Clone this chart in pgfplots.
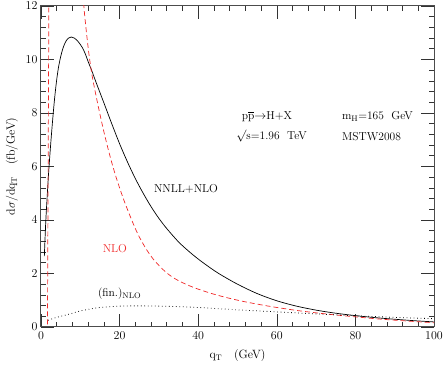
\documentclass[border=0pt]{standalone}
\usepackage{pgfplots}
\pgfplotsset{compat=1.18}
\definecolor{nlored}{RGB}{240,40,40}
\begin{document}
\begin{tikzpicture}[x=1pt,y=1pt]
\path[use as bounding box] (0,0) rectangle (448,366);
\begin{axis}[
  at={(41pt,39pt)}, anchor=south west,
  scale only axis, width=393pt, height=321pt,
  xmin=0, xmax=100, ymin=0, ymax=12,
  xtick={0,20,...,100}, ytick={0,2,...,12},
  minor x tick num=4, minor y tick num=4,
  tick align=inside, major tick length=13pt, minor tick length=5pt,
  tick style={black!80, line width=0.6pt},
  axis line style={black!70, line width=1pt},
  tick label style={font=\fontsize{13}{15}\selectfont},
  xticklabel style={yshift=-1pt},
  xlabel={q$_{\mathrm{T}}$~~~(GeV)},
  ylabel={d$\sigma$/dq$_{\mathrm{T}}$~~~(fb/GeV)},
  label style={font=\fontsize{12}{14}\selectfont},
  xlabel style={at={(axis description cs:0.5,-0.0903)}, anchor=center},
  ylabel style={at={(axis description cs:-0.0738,0.5)}, anchor=center},
  clip=true,
]
% NNLL+NLO
\addplot[black, line width=0.7pt, smooth] coordinates {
(0.85,2.65) (1.2,3.9) (1.6,4.95) (2.0,5.9) (2.5,6.9) (3.0,7.8) (3.5,8.6) (4.0,9.25)
(4.5,9.75) (5.0,10.1) (5.5,10.38) (6.0,10.58) (6.5,10.72) (7.0,10.8) (7.7,10.84)
(8.5,10.8) (9.5,10.66) (10.5,10.45) (11.3,10.2) (12,9.92) (13,9.55) (14,9.15)
(16,8.38) (18,7.6) (20,6.85) (22,6.17) (24,5.55) (26,5.0) (28,4.5) (30,4.06)
(32,3.68) (35,3.18) (38,2.78) (41,2.43) (45,2.02) (50,1.6) (55,1.25) (60,0.98)
(65,0.78) (70,0.63) (75,0.515) (80,0.425) (85,0.35) (90,0.29) (95,0.235) (100,0.19)
};
% NLO left branch
\addplot[nlored, line width=0.7pt, dash pattern=on 5pt off 3pt] coordinates {
(1.62,-0.5) (1.66,0.5) (1.7,2) (1.76,4) (1.82,6) (1.88,8) (1.94,10) (2.0,12) (2.03,13)
};
% NLO right branch
\addplot[nlored, line width=0.7pt, dash pattern=on 5pt off 3pt, smooth] coordinates {
(10.5,13) (10.9,12) (11.5,11.1) (12.2,10.2) (13,9.4) (14,8.65) (15,7.95) (16,7.3)
(17,6.7) (18,6.15) (19,5.65) (20,5.2) (21.4,4.62) (23.5,3.85) (25,3.37) (27,2.86)
(29,2.46) (32,2.02) (35,1.73) (38.8,1.48) (43,1.27) (47.2,1.1) (52,0.94) (58.3,0.77)
(65,0.62) (70,0.53) (75,0.45) (80,0.38) (85,0.31) (90,0.255) (95,0.205) (100,0.16)
};
% (fin.)_NLO
\addplot[black, line width=0.8pt, dash pattern=on 0.7pt off 2.8pt, smooth] coordinates {
(1.8,0.25) (4,0.36) (7.7,0.5) (10,0.6) (14.5,0.72) (20,0.78) (25,0.79) (30,0.78)
(35,0.76) (40,0.73) (46.6,0.67) (58,0.58) (70,0.49) (80,0.42) (90,0.36) (100,0.31)
};
\begin{scope}[every node/.style={inner sep=0.5pt, font=\fontsize{11.5}{13}\selectfont}]
\node at (axis cs:57.5,7.88) {p$\overline{\mbox{p}}$$\to$H+X};
\node at (axis cs:85.6,7.88) {m$_{\mathrm{H}}$=165~~GeV};
\node at (axis cs:58.7,7.13) {$\surd$s=1.96~~TeV};
\node at (axis cs:84.1,7.13) {MSTW2008};
\node at (axis cs:36.9,5.18) {NNLL+NLO};
\node[text=nlored] at (axis cs:18.8,2.94) {NLO};
\node at (axis cs:20.0,1.25) {(fin.)$_{\mathrm{NLO}}$};
\end{scope}
\end{axis}
\end{tikzpicture}
\end{document}
